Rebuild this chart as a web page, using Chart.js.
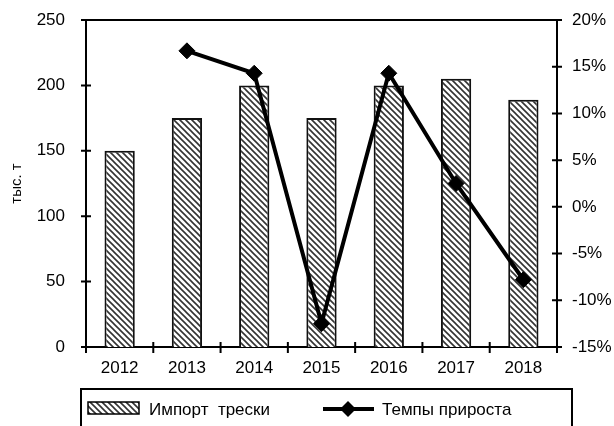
<!DOCTYPE html>
<html>
<head>
<meta charset="utf-8">
<script src="https://cdn.jsdelivr.net/npm/chart.js@4.4.0/dist/chart.umd.min.js"></script>
<style>
  html, body { margin: 0; padding: 0; background: #fff; }
  #wrap { width: 614px; height: 426px; }
</style>
</head>
<body>
<div id="wrap"><canvas id="cod_chart"></canvas></div>
<script>
// data
var years = ['2012', '2013', '2014', '2015', '2016', '2017', '2018'];
var importVolume = [150, 175, 200, 175, 200, 205, 189];   // тыс. т
var growthRate = [null, 16.7, 14.3, -12.5, 14.3, 2.5, -7.8]; // %
var seriesNames = ['Импорт  трески', 'Темпы прироста'];

var FONT = 'Arial, "Liberation Sans", sans-serif';

// diagonal hatch fill for the bars
function makeHatch() {
    var p = 6;
    var c = document.createElement('canvas');
    c.width = p; c.height = p;
    var g = c.getContext('2d');
    g.fillStyle = '#fff';
    g.fillRect(0, 0, p, p);
    g.strokeStyle = '#333';
    g.lineWidth = 1.6;
    g.beginPath();
    g.moveTo(0, 0); g.lineTo(p, p);
    g.moveTo(p - 2, -2); g.lineTo(p + 2, 2);
    g.moveTo(-2, p - 2); g.lineTo(2, p + 2);
    g.stroke();
    return g.createPattern(c, 'repeat');
}
var hatch = makeHatch();

// frame top line, crossing tick marks and the boxed legend
var framePlugin = {
    id: 'frame',
    afterDraw: function (chart) {
        var ctx = chart.ctx, a = chart.chartArea;
        var sx = chart.scales.x, sy = chart.scales.y, sy1 = chart.scales.y1;
        ctx.save();
        ctx.strokeStyle = '#000';
        ctx.lineWidth = 2;
        ctx.beginPath();
        ctx.moveTo(a.left, a.top);
        ctx.lineTo(a.right, a.top);
        sy.ticks.forEach(function (t) {
            var py = sy.getPixelForValue(t.value);
            ctx.moveTo(a.left - 5, py); ctx.lineTo(a.left + 5, py);
        });
        sy1.ticks.forEach(function (t) {
            var py = sy1.getPixelForValue(t.value);
            ctx.moveTo(a.right - 5, py); ctx.lineTo(a.right + 5, py);
        });
        var half = (sx.getPixelForValue(1) - sx.getPixelForValue(0)) / 2;
        for (var i = 0; i <= years.length; i++) {
            var px = sx.getPixelForValue(i) - half;
            ctx.moveTo(px, a.bottom - 5); ctx.lineTo(px, a.bottom + 6);
        }
        ctx.stroke();

        // legend
        var top = 389;
        ctx.strokeRect(81, top, 491, 60);
        var ly = top + 20;
        ctx.fillStyle = hatch;
        ctx.fillRect(88, ly - 7, 51, 12);
        ctx.lineWidth = 1.5;
        ctx.strokeRect(88, ly - 7, 51, 12);
        ctx.lineWidth = 4;
        ctx.beginPath();
        ctx.moveTo(323, ly); ctx.lineTo(374, ly);
        ctx.stroke();
        ctx.fillStyle = '#000';
        ctx.beginPath();
        ctx.moveTo(348, ly - 8); ctx.lineTo(356, ly); ctx.lineTo(348, ly + 8); ctx.lineTo(340, ly);
        ctx.closePath();
        ctx.fill();
        ctx.font = '17px ' + FONT;
        ctx.textBaseline = 'middle';
        ctx.fillText(seriesNames[0], 149, ly + 1);
        ctx.fillText(seriesNames[1], 382, ly + 1);
        ctx.restore();
    }
};

function fitSide(width) {
    return function (s) {
        s.width = width;
        s.paddingTop = 10;
        s.paddingBottom = 10;
    };
}

var ctx = document.getElementById('cod_chart');
var myChart = new Chart(ctx, {
    type: 'bar',
    data: {
        labels: years,
        datasets: [
            {
                type: 'bar',
                label: seriesNames[0],
                data: importVolume,
                backgroundColor: hatch,
                borderColor: '#111',
                borderWidth: 2,
                barPercentage: 0.45,
                categoryPercentage: 1,
                yAxisID: 'y',
                order: 1
            },
            {
                type: 'line',
                label: seriesNames[1],
                data: growthRate,
                borderColor: '#000',
                backgroundColor: '#000',
                borderWidth: 4,
                pointStyle: 'rectRot',
                pointRadius: 8,
                pointBorderWidth: 1,
                tension: 0,
                yAxisID: 'y1',
                order: 0
            }
        ]
    },
    options: {
        responsive: true,
        maintainAspectRatio: false,
        animation: false,
        layout: { padding: { top: 20, bottom: 37, left: 0, right: 0 } },
        plugins: {
            legend: { display: false },
            tooltip: { enabled: false }
        },
        scales: {
            x: {
                grid: { display: false, drawTicks: false },
                border: { display: true, color: '#000', width: 2 },
                ticks: { color: '#000', font: { family: FONT, size: 17 }, padding: 11, maxRotation: 0 },
                afterFit: function (s) { s.height = 42; }
            },
            y: {
                position: 'left',
                min: 0, max: 250,
                grid: { display: false, drawTicks: false },
                border: { display: true, color: '#000', width: 2 },
                ticks: { stepSize: 50, color: '#000', font: { family: FONT, size: 17 }, padding: 21 },
                title: { display: true, text: 'тыс. т', color: '#000', font: { family: FONT, size: 15 }, padding: { top: 8, bottom: 0 } },
                afterFit: fitSide(86)
            },
            y1: {
                position: 'right',
                min: -15, max: 20,
                grid: { display: false, drawTicks: false },
                border: { display: true, color: '#000', width: 2 },
                ticks: {
                    stepSize: 5, color: '#000', font: { family: FONT, size: 17 }, padding: 15,
                    callback: function (v) { return v + '%'; }
                },
                afterFit: fitSide(57)
            }
        }
    },
    plugins: [framePlugin]
});
</script>
</body>
</html>
